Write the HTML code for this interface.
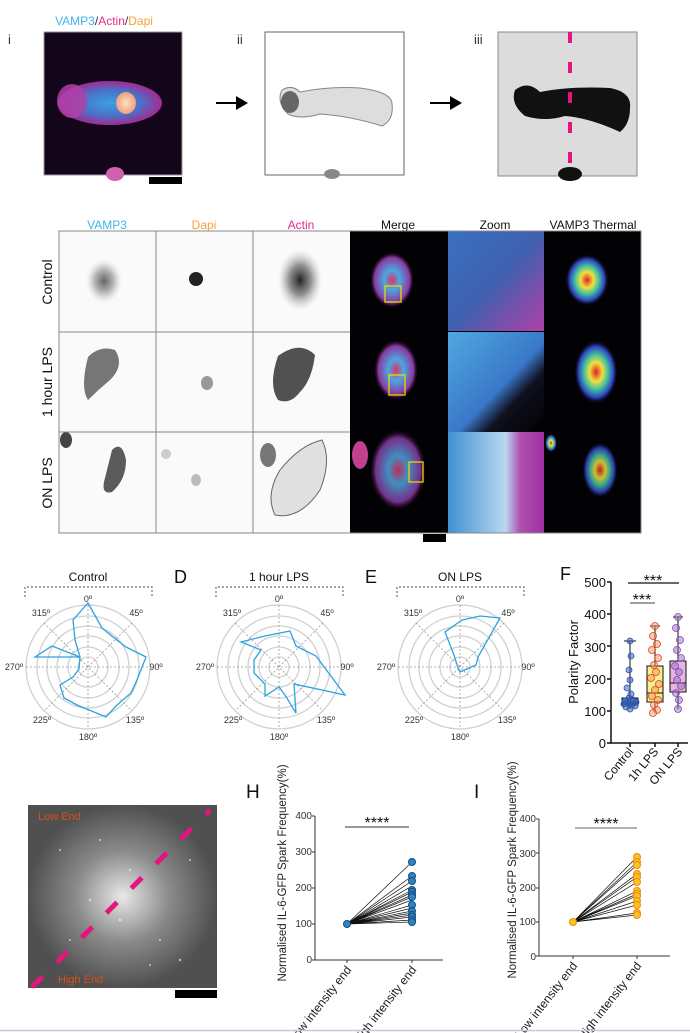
<!DOCTYPE html>
<html><head><meta charset="utf-8"><style>
html,body{margin:0;padding:0;background:#fff;}
svg{display:block;font-family:"Liberation Sans",Arial,sans-serif;}
</style></head><body>
<svg width="690" height="1033" viewBox="0 0 690 1033" xmlns="http://www.w3.org/2000/svg">
<defs>
<radialGradient id="cellI" cx="50%" cy="50%" r="50%"><stop offset="0" stop-color="#3aa0e0"/><stop offset="0.6" stop-color="#4a70c8"/><stop offset="1" stop-color="#b030a0" stop-opacity="0.9"/></radialGradient>
<radialGradient id="nuc" cx="50%" cy="50%" r="50%"><stop offset="0" stop-color="#ffe0c0"/><stop offset="1" stop-color="#f0a080"/></radialGradient>
<radialGradient id="blob" cx="50%" cy="50%" r="50%"><stop offset="0" stop-color="#222"/><stop offset="0.5" stop-color="#777" stop-opacity="0.8"/><stop offset="1" stop-color="#bbb" stop-opacity="0"/></radialGradient>
<radialGradient id="mrg" cx="50%" cy="50%" r="50%"><stop offset="0" stop-color="#e0306a"/><stop offset="0.35" stop-color="#4aa8e0"/><stop offset="0.8" stop-color="#8a3aa0"/><stop offset="1" stop-color="#300830" stop-opacity="0"/></radialGradient>
<radialGradient id="thm" cx="50%" cy="50%" r="50%"><stop offset="0" stop-color="#e02020"/><stop offset="0.3" stop-color="#f0e040"/><stop offset="0.55" stop-color="#40c0a0"/><stop offset="0.8" stop-color="#3040c0"/><stop offset="1" stop-color="#000" stop-opacity="0"/></radialGradient>
<linearGradient id="zm1" x1="0" y1="0" x2="1" y2="1"><stop offset="0" stop-color="#3a70c0"/><stop offset="0.5" stop-color="#4060b0"/><stop offset="1" stop-color="#b040a8"/></linearGradient>
<linearGradient id="zm2" x1="0" y1="0" x2="1" y2="1"><stop offset="0" stop-color="#50a8e0"/><stop offset="0.55" stop-color="#3a78c8"/><stop offset="0.7" stop-color="#101020"/><stop offset="1" stop-color="#000"/></linearGradient>
<linearGradient id="zm3" x1="0" y1="0" x2="1" y2="0"><stop offset="0" stop-color="#4090d0"/><stop offset="0.6" stop-color="#b8d8f0"/><stop offset="0.75" stop-color="#b050b0"/><stop offset="1" stop-color="#a030a0"/></linearGradient>
<radialGradient id="spk" cx="50%" cy="50%" r="50%"><stop offset="0" stop-color="#e8e8e8"/><stop offset="0.5" stop-color="#8a8a8a"/><stop offset="1" stop-color="#505050"/></radialGradient>
</defs>

<!-- Top panel -->
<text x="8" y="44" font-size="13" fill="#333">i</text>
<text x="104" y="25" font-size="12" text-anchor="middle"><tspan fill="#3fb6ea">VAMP3</tspan><tspan fill="#333">/</tspan><tspan fill="#e8288d">Actin</tspan><tspan fill="#333">/</tspan><tspan fill="#f7a13a">Dapi</tspan></text>
<rect x="44" y="32" width="138" height="143" fill="#14061a" stroke="#999" stroke-width="1"/>
<ellipse cx="110" cy="103" rx="52" ry="22" fill="url(#cellI)"/>
<ellipse cx="72" cy="101" rx="15" ry="17" fill="#b040a8" opacity="0.85"/>
<ellipse cx="126" cy="103" rx="10" ry="11" fill="url(#nuc)"/>
<ellipse cx="115" cy="174" rx="9" ry="7" fill="#d060b0"/>
<rect x="149" y="177" width="33" height="7" fill="#000"/>
<path d="M216 103 H242" stroke="#000" stroke-width="2"/><path d="M236 96 L248 103 L236 110 Z" fill="#000"/>
<text x="237" y="44" font-size="13" fill="#333">ii</text>
<rect x="265" y="32" width="139" height="143" fill="#fff" stroke="#666" stroke-width="1"/>
<path d="M282 90 Q292 84 300 92 Q330 86 360 88 Q392 92 392 104 Q394 120 382 126 Q350 116 320 114 Q300 120 288 114 Q276 102 282 90Z" fill="#ddd" stroke="#888" stroke-width="1"/>
<ellipse cx="290" cy="102" rx="9" ry="11" fill="#666"/>
<ellipse cx="332" cy="174" rx="8" ry="5" fill="#888"/>
<path d="M430 103 H456" stroke="#000" stroke-width="2"/><path d="M450 96 L462 103 L450 110 Z" fill="#000"/>
<text x="474" y="44" font-size="13" fill="#333">iii</text>
<rect x="498" y="32" width="139" height="144" fill="#dcdcdc" stroke="#888" stroke-width="1"/>
<path d="M515 90 Q528 80 540 92 Q570 86 610 88 Q632 92 630 108 Q630 124 620 132 Q590 118 565 116 Q545 122 525 116 Q510 104 515 90Z" fill="#111"/>
<ellipse cx="570" cy="174" rx="12" ry="7" fill="#111"/>
<path d="M570 32 V176" stroke="#e5147f" stroke-width="4" stroke-dasharray="11 19"/>

<!-- Grid headers -->
<g font-size="12" text-anchor="middle">
<text x="107" y="229" fill="#3fb6ea">VAMP3</text>
<text x="204" y="229" fill="#f7a13a">Dapi</text>
<text x="301" y="229" fill="#e8288d">Actin</text>
<text x="398" y="229" fill="#111">Merge</text>
<text x="495" y="229" fill="#111">Zoom</text>
<text x="593" y="229" fill="#111">VAMP3 Thermal</text>
</g>
<g font-size="14" text-anchor="middle" fill="#111">
<text transform="translate(52,282) rotate(-90)">Control</text>
<text transform="translate(52,382) rotate(-90)">1 hour LPS</text>
<text transform="translate(52,483) rotate(-90)">ON LPS</text>
</g>
<rect x="59" y="231" width="291" height="302" fill="#fafafa"/>
<rect x="350" y="231" width="291" height="302" fill="#020204"/>
<ellipse cx="104" cy="281" rx="18" ry="22" fill="url(#blob)" opacity="0.7"/>
<ellipse cx="196" cy="279" rx="7" ry="7" fill="#222"/>
<ellipse cx="300" cy="280" rx="22" ry="30" fill="url(#blob)"/>
<ellipse cx="392" cy="280" rx="22" ry="28" fill="url(#mrg)"/>
<rect x="385" y="286" width="16" height="16" fill="none" stroke="#e8d800" stroke-width="1.3"/>
<rect x="448" y="231" width="96" height="100" fill="url(#zm1)"/>
<ellipse cx="587" cy="280" rx="22" ry="26" fill="url(#thm)"/>
<path d="M88 357 Q100 345 115 350 Q125 365 110 380 Q98 390 88 400 Q80 388 88 357Z" fill="#555" opacity="0.8"/>
<ellipse cx="207" cy="383" rx="6" ry="7" fill="#999"/>
<path d="M278 356 Q300 340 315 355 Q312 380 300 392 Q290 405 278 400 Q268 385 278 356Z" fill="#333" opacity="0.85"/>
<ellipse cx="396" cy="370" rx="22" ry="30" fill="url(#mrg)"/>
<rect x="389" y="375" width="16" height="20" fill="none" stroke="#e8d800" stroke-width="1.3"/>
<rect x="448" y="332" width="96" height="100" fill="url(#zm2)"/>
<ellipse cx="596" cy="372" rx="22" ry="32" fill="url(#thm)"/>
<path d="M112 450 Q122 440 126 460 Q126 480 112 492 Q100 495 105 478Z" fill="#333" opacity="0.8"/>
<ellipse cx="66" cy="440" rx="6" ry="8" fill="#444"/>
<ellipse cx="196" cy="480" rx="5" ry="6" fill="#bbb"/>
<ellipse cx="166" cy="454" rx="5" ry="5" fill="#ccc"/>
<path d="M280 470 Q300 445 322 440 Q332 460 320 490 Q300 520 275 515 Q265 495 280 470Z" fill="#e0e0e0" stroke="#666"/>
<ellipse cx="268" cy="455" rx="8" ry="12" fill="#777"/>
<ellipse cx="398" cy="470" rx="28" ry="40" fill="url(#mrg)" opacity="0.85"/>
<ellipse cx="360" cy="455" rx="8" ry="14" fill="#c04090"/>
<rect x="409" y="462" width="14" height="20" fill="none" stroke="#e8d800" stroke-width="1.3"/>
<rect x="448" y="432" width="96" height="101" fill="url(#zm3)"/>
<ellipse cx="600" cy="470" rx="18" ry="28" fill="url(#thm)" opacity="0.85"/>
<ellipse cx="551" cy="443" rx="6" ry="9" fill="url(#thm)"/>
<g stroke="#888" stroke-width="1" fill="none">
<rect x="59" y="231" width="582" height="302"/>
<path d="M156 231V533M253 231V533M59 332H350M59 432H350"/>
</g>
<rect x="423" y="534" width="23" height="8" fill="#000"/>

<!-- Polar charts -->
<g font-size="12" fill="#111" text-anchor="middle">
<text x="88" y="581">Control</text>
<text x="279" y="581">1 hour LPS</text>
<text x="460" y="581">ON LPS</text>
</g>
<g font-size="18" fill="#111">
<text x="174" y="583">D</text><text x="365" y="583">E</text><text x="560" y="580">F</text>
</g>
<g stroke="#444" stroke-width="0.9" stroke-dasharray="2 2" fill="none">
<path d="M25 597V587H152V597"/><path d="M216 597V587H343V597"/><path d="M397 597V587H524V597"/>
</g>
<g fill="none" stroke="#d0d0d0" stroke-width="1.3">
<circle cx="88" cy="667" r="10"/><circle cx="88" cy="667" r="20"/><circle cx="88" cy="667" r="31"/><circle cx="88" cy="667" r="41"/><circle cx="88" cy="667" r="51"/><circle cx="88" cy="667" r="62"/>
<circle cx="279" cy="667" r="10"/><circle cx="279" cy="667" r="20"/><circle cx="279" cy="667" r="31"/><circle cx="279" cy="667" r="41"/><circle cx="279" cy="667" r="51"/><circle cx="279" cy="667" r="62"/>
<circle cx="460" cy="667" r="10"/><circle cx="460" cy="667" r="20"/><circle cx="460" cy="667" r="31"/><circle cx="460" cy="667" r="41"/><circle cx="460" cy="667" r="51"/><circle cx="460" cy="667" r="62"/>
</g>
<g stroke="#999" stroke-width="0.8" stroke-dasharray="2 2">
<path d="M88 605V729M26 667H150M44 623L132 711M132 623L44 711"/>
<path d="M279 605V729M217 667H341M235 623L323 711M323 623L235 711"/>
<path d="M460 605V729M398 667H522M416 623L504 711M504 623L416 711"/>
</g>
<g font-size="9" fill="#333" text-anchor="middle">
<text x="88" y="602">0º</text><text x="136" y="616">45º</text><text x="156" y="670">90º</text><text x="135" y="723">135º</text><text x="88" y="740">180º</text><text x="42" y="723">225º</text><text x="14" y="670">270º</text><text x="41" y="616">315º</text>
<text x="279" y="602">0º</text><text x="327" y="616">45º</text><text x="347" y="670">90º</text><text x="326" y="723">135º</text><text x="279" y="740">180º</text><text x="233" y="723">225º</text><text x="205" y="670">270º</text><text x="232" y="616">315º</text>
<text x="460" y="602">0º</text><text x="508" y="616">45º</text><text x="528" y="670">90º</text><text x="507" y="723">135º</text><text x="460" y="740">180º</text><text x="414" y="723">225º</text><text x="386" y="670">270º</text><text x="413" y="616">315º</text>
</g>
<g fill="none" stroke="#2aa3e2" stroke-width="1.3">
<polygon points="88,603 102,628 113,637 126,647 146,657 137,680 131,693 117,705 106,717 77,705 64,698 60,685 73,677 79,669 80,657 52,646 35,657 80,657 75,640 73,620"/>
<polygon points="290,631 296,646 316,656 345,695 294,684 296,713 285,695 279,687 265,696 265,684 254,673 254,660 261,650 241,642 265,636"/>
<polygon points="460,672 476,665 478,657 500,618 480,616 462,620 445,632 454,655 458,668"/>
</g>

<!-- F box plot -->
<g font-size="13" fill="#111" text-anchor="end">
<text x="606" y="587">500</text><text x="606" y="619">400</text><text x="606" y="652">300</text><text x="606" y="684">200</text><text x="606" y="716">100</text><text x="606" y="748">0</text>
</g>
<path d="M611 582V743H688" stroke="#111" stroke-width="1.5" fill="none"/>
<g stroke="#111" stroke-width="1.5"><path d="M607 582H611M607 614H611M607 646H611M607 679H611M607 711H611M607 743H611M630 743V747M655 743V747M678 743V747"/></g>
<text transform="translate(578,662) rotate(-90)" font-size="13" text-anchor="middle" fill="#111">Polarity Factor</text>
<path d="M628 583H679" stroke="#111" stroke-width="1.3"/><text x="653" y="586" font-size="16" text-anchor="middle" fill="#111">***</text>
<path d="M630 603H655" stroke="#666" stroke-width="1.3"/><text x="642" y="605" font-size="16" text-anchor="middle" fill="#111">***</text>
<g stroke="#111" stroke-width="1">
<path d="M630 641V709M624 641H636"/><rect x="622" y="698" width="16" height="7" fill="#6d8fcf"/><path d="M622 703H638"/>
<path d="M655 626V713M650 626H660"/><rect x="647" y="666" width="16" height="36" fill="#f4ef8a"/><path d="M647 693H663"/>
<path d="M678 617V709M673 617H683"/><rect x="670" y="661" width="16" height="31" fill="#e8b4e0"/><path d="M670 683H686"/>
</g>
<g fill="#3b62b8" fill-opacity="0.55" stroke="#2a50a8" stroke-width="0.8">
<circle cx="628" cy="703" r="3"/><circle cx="632" cy="705" r="3"/><circle cx="626" cy="707" r="3"/><circle cx="633" cy="700" r="3"/><circle cx="629" cy="698" r="3"/><circle cx="625" cy="701" r="3"/><circle cx="635" cy="706" r="3"/><circle cx="630" cy="709" r="3"/><circle cx="631" cy="694" r="3"/><circle cx="627" cy="688" r="3"/><circle cx="630" cy="680" r="3"/><circle cx="629" cy="670" r="3"/><circle cx="631" cy="656" r="3"/><circle cx="630" cy="641" r="3"/><circle cx="624" cy="704" r="3"/><circle cx="636" cy="702" r="3"/>
</g>
<g fill="#f49a60" fill-opacity="0.5" stroke="#e04020" stroke-width="0.8">
<circle cx="655" cy="626" r="3.5"/><circle cx="653" cy="636" r="3.5"/><circle cx="657" cy="644" r="3.5"/><circle cx="652" cy="650" r="3.5"/><circle cx="658" cy="658" r="3.5"/><circle cx="654" cy="665" r="3.5"/><circle cx="656" cy="672" r="3.5"/><circle cx="651" cy="678" r="3.5"/><circle cx="659" cy="684" r="3.5"/><circle cx="655" cy="690" r="3.5"/><circle cx="652" cy="696" r="3.5"/><circle cx="658" cy="700" r="3.5"/><circle cx="654" cy="705" r="3.5"/><circle cx="657" cy="710" r="3.5"/><circle cx="653" cy="713" r="3.5"/>
</g>
<g fill="#9c6cc8" fill-opacity="0.5" stroke="#7a4aa8" stroke-width="0.8">
<circle cx="678" cy="617" r="3.5"/><circle cx="676" cy="628" r="3.5"/><circle cx="680" cy="640" r="3.5"/><circle cx="677" cy="650" r="3.5"/><circle cx="681" cy="658" r="3.5"/><circle cx="675" cy="666" r="3.5"/><circle cx="679" cy="672" r="3.5"/><circle cx="677" cy="680" r="3.5"/><circle cx="681" cy="686" r="3.5"/><circle cx="676" cy="693" r="3.5"/><circle cx="679" cy="700" r="3.5"/><circle cx="678" cy="709" r="3.5"/>
</g>
<g font-size="12" fill="#111" text-anchor="end">
<text transform="translate(634,752) rotate(-50)">Control</text>
<text transform="translate(659,752) rotate(-50)">1h LPS</text>
<text transform="translate(683,752) rotate(-50)">ON LPS</text>
</g>

<!-- G image -->
<rect x="28" y="805" width="189" height="183" fill="url(#spk)"/>
<g fill="#fff" opacity="0.6">
<circle cx="60" cy="850" r="1"/><circle cx="90" cy="900" r="1.2"/><circle cx="130" cy="870" r="1.2"/><circle cx="160" cy="940" r="1"/><circle cx="180" cy="960" r="1.2"/><circle cx="150" cy="965" r="1"/><circle cx="100" cy="840" r="1"/><circle cx="190" cy="860" r="1"/><circle cx="70" cy="940" r="1"/><circle cx="120" cy="920" r="1.2"/>
</g>
<path d="M32 987 L210 810" stroke="#e5147f" stroke-width="5" stroke-dasharray="15 20"/>
<text x="38" y="820" font-size="11" fill="#d8501a">Low End</text>
<text x="58" y="983" font-size="11" fill="#d8501a">High End</text>
<rect x="175" y="990" width="42" height="8" fill="#000"/>

<!-- H -->
<text x="246" y="798" font-size="19" fill="#111">H</text>
<text transform="translate(286,873) rotate(-90)" font-size="11.5" text-anchor="middle" fill="#222">Normalised IL-6-GFP Spark Frequency(%)</text>
<g font-size="10" fill="#333" text-anchor="end">
<text x="312" y="819">400</text><text x="312" y="855">300</text><text x="312" y="891">200</text><text x="312" y="927">100</text><text x="312" y="963">0</text>
</g>
<path d="M315 816V960H443" stroke="#333" stroke-width="1" fill="none"/>
<path d="M312 816H315M312 852H315M312 888H315M312 924H315M312 960H315M347 960V963M412 960V963" stroke="#333"/>
<path d="M345 827H409" stroke="#333" stroke-width="1"/><text x="377" y="828" font-size="16" text-anchor="middle" fill="#111">****</text>
<g stroke="#111" stroke-width="0.7">
<path d="M347 924L412 862M347 924L412 876M347 924L412 881M347 924L412 890M347 924L412 892M347 924L412 895M347 924L412 897M347 924L412 905M347 924L412 911M347 924L412 915M347 924L412 917M347 924L412 920M347 924L412 922M347 924L412 886M347 924L412 900M347 924L412 908M347 924L412 913"/>
</g>
<g fill="#2b86c4" stroke="#1a4a80" stroke-width="1">
<circle cx="347" cy="924" r="3.5"/>
<circle cx="412" cy="862" r="3.5"/><circle cx="412" cy="876" r="3.5"/><circle cx="412" cy="881" r="3.5"/><circle cx="412" cy="890" r="3.5"/><circle cx="412" cy="892" r="3.5"/><circle cx="412" cy="895" r="3.5"/><circle cx="412" cy="897" r="3.5"/><circle cx="412" cy="905" r="3.5"/><circle cx="412" cy="911" r="3.5"/><circle cx="412" cy="915" r="3.5"/><circle cx="412" cy="917" r="3.5"/><circle cx="412" cy="920" r="3.5"/><circle cx="412" cy="922" r="3.5"/>
</g>
<g font-size="12" fill="#222" text-anchor="end">
<text transform="translate(352,970) rotate(-52)">Low intensity end</text>
<text transform="translate(417,970) rotate(-52)">High intensity end</text>
</g>

<!-- I -->
<text x="474" y="798" font-size="19" fill="#111">I</text>
<text transform="translate(516,870) rotate(-90)" font-size="11.5" text-anchor="middle" fill="#222">Normalised IL-6-GFP Spark Frequency(%)</text>
<g font-size="10" fill="#333" text-anchor="end">
<text x="536" y="822">400</text><text x="536" y="857">300</text><text x="536" y="891">200</text><text x="536" y="925">100</text><text x="536" y="960">0</text>
</g>
<path d="M539 819V956H670" stroke="#333" stroke-width="1" fill="none"/>
<path d="M536 819H539M536 853H539M536 888H539M536 922H539M536 956H539M573 956V959M637 956V959" stroke="#333"/>
<path d="M575 828H637" stroke="#666" stroke-width="1"/><text x="606" y="829" font-size="16" text-anchor="middle" fill="#111">****</text>
<g stroke="#111" stroke-width="0.7">
<path d="M573 922L637 857M573 922L637 862M573 922L637 865M573 922L637 874M573 922L637 877M573 922L637 882M573 922L637 891M573 922L637 894M573 922L637 896M573 922L637 901M573 922L637 905M573 922L637 913M573 922L637 915"/>
</g>
<g fill="#f8c420" stroke="#f08a10" stroke-width="1">
<circle cx="573" cy="922" r="3.5"/>
<circle cx="637" cy="857" r="3.5"/><circle cx="637" cy="862" r="3.5"/><circle cx="637" cy="865" r="3.5"/><circle cx="637" cy="874" r="3.5"/><circle cx="637" cy="877" r="3.5"/><circle cx="637" cy="882" r="3.5"/><circle cx="637" cy="891" r="3.5"/><circle cx="637" cy="894" r="3.5"/><circle cx="637" cy="896" r="3.5"/><circle cx="637" cy="901" r="3.5"/><circle cx="637" cy="905" r="3.5"/><circle cx="637" cy="913" r="3.5"/><circle cx="637" cy="915" r="3.5"/>
</g>
<g font-size="12" fill="#222" text-anchor="end">
<text transform="translate(578,966) rotate(-52)">Low intensity end</text>
<text transform="translate(642,966) rotate(-52)">High intensity end</text>
</g>

<path d="M0 1030.5H690" stroke="#c4c8dc" stroke-width="1.5"/>
</svg>
</body></html>
